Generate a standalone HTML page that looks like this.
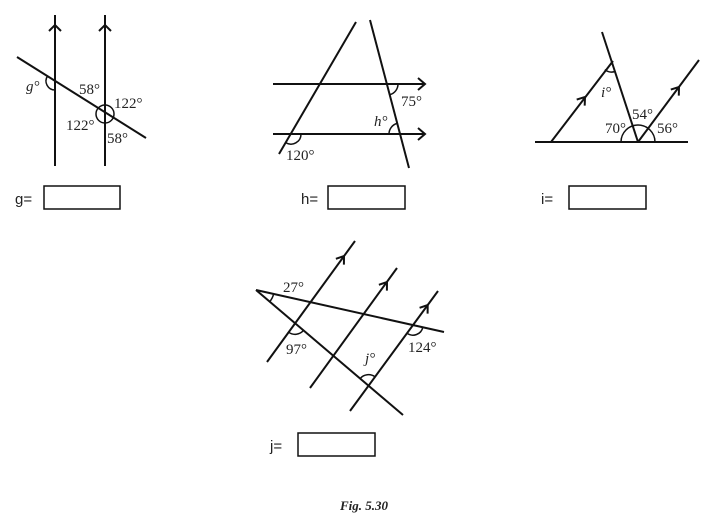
<!DOCTYPE html><html><head><style>body{margin:0;background:#fff}svg{display:block}text{font-family:"Liberation Serif",serif;font-size:15px;fill:#222}.s{font-family:"Liberation Sans",sans-serif;font-size:15px}</style></head><body>
<svg width="728" height="521" viewBox="0 0 728 521" fill="none" stroke="#111" stroke-width="2">
<!-- g -->
<line x1="55" y1="15" x2="55" y2="166"/><line x1="105" y1="15" x2="105" y2="166"/>
<polyline points="49,31 55,25 61,31"/><polyline points="99,31 105,25 111,31"/>
<line x1="17" y1="57" x2="146" y2="138"/>
<path d="M47.4,76.2 A9,9 0 0 0 55,90" stroke-width="1.5"/>
<circle cx="105" cy="114" r="9" stroke-width="1.5"/>
<text x="26" y="91" stroke="none" font-style="italic">g°</text>
<text x="79" y="94" stroke="none">58°</text><text x="114" y="108" stroke="none">122°</text>
<text x="66" y="130" stroke="none">122°</text><text x="107" y="143" stroke="none">58°</text>
<text x="15" y="204" stroke="none" class="s">g=</text><rect x="44" y="186" width="76" height="23" stroke-width="1.5"/>
<!-- h -->
<line x1="356" y1="22" x2="279" y2="154"/><line x1="370" y1="20" x2="409" y2="168"/>
<line x1="273" y1="84" x2="425" y2="84"/><line x1="273" y1="134" x2="425" y2="134"/>
<polyline points="418,78 425,84 418,90"/><polyline points="418,128 425,134 418,140"/>
<path d="M398,84 A11,11 0 0 1 390,94.6" stroke-width="1.5"/>
<path d="M389,134 A11,11 0 0 1 397.2,123.4" stroke-width="1.5"/>
<path d="M301,134 A10,10 0 0 1 285.7,142.6" stroke-width="1.5"/>
<text x="401" y="106" stroke="none">75°</text><text x="374" y="126" stroke="none" font-style="italic">h°</text>
<text x="286" y="160" stroke="none">120°</text>
<text x="301" y="204" stroke="none" class="s">h=</text><rect x="328" y="186" width="77" height="23" stroke-width="1.5"/>
<!-- i -->
<line x1="535" y1="142" x2="688" y2="142"/>
<line x1="602" y1="32" x2="638" y2="142"/><line x1="551" y1="142" x2="613" y2="61"/><line x1="638" y1="142" x2="699" y2="60"/>
<polyline points="584.7,105.6 585,97 576.7,99.6"/><polyline points="678.8,95.6 679,87 670.8,89.6"/>
<path d="M621,142 A17,17 0 0 1 655,142" stroke-width="1.5"/>
<path d="M604.8,69.7 A11,11 0 0 0 615,71.5" stroke-width="1.5"/>
<text x="601" y="97" stroke="none" font-style="italic">i°</text>
<text x="632" y="119" stroke="none">54°</text><text x="605" y="133" stroke="none">70°</text><text x="657" y="133" stroke="none">56°</text>
<text x="541" y="204" stroke="none" class="s">i=</text><rect x="569" y="186" width="77" height="23" stroke-width="1.5"/>
<!-- j -->
<line x1="256" y1="290" x2="444" y2="332"/><line x1="256" y1="290" x2="403" y2="415"/>
<line x1="267" y1="362" x2="355" y2="241"/><line x1="310" y1="388" x2="397" y2="268"/><line x1="350" y1="411" x2="438" y2="291"/>
<polyline points="343.9,264.6 344,256 335.9,258.8"/><polyline points="386.9,290.6 387,282 378.9,284.8"/><polyline points="427.6,313.6 427.7,305 419.6,307.8"/>
<path d="M273.6,293.9 A18,18 0 0 1 269.7,301.6" stroke-width="1.5"/>
<path d="M288.6,332.2 A11,11 0 0 0 303.5,330.4" stroke-width="1.5"/>
<path d="M407.1,333.2 A10,10 0 0 0 422.8,327.3" stroke-width="1.5"/>
<path d="M360.1,378.6 A11,11 0 0 1 375,376.8" stroke-width="1.5"/>
<text x="283" y="292" stroke="none">27°</text><text x="286" y="354" stroke="none">97°</text>
<text x="365" y="363" stroke="none" font-style="italic">j°</text><text x="408" y="352" stroke="none">124°</text>
<text x="270" y="451" stroke="none" class="s">j=</text><rect x="298" y="433" width="77" height="23" stroke-width="1.5"/>
<text x="364" y="510" stroke="none" text-anchor="middle" font-weight="bold" font-style="italic" style="font-size:13px">Fig. 5.30</text>
</svg></body></html>
